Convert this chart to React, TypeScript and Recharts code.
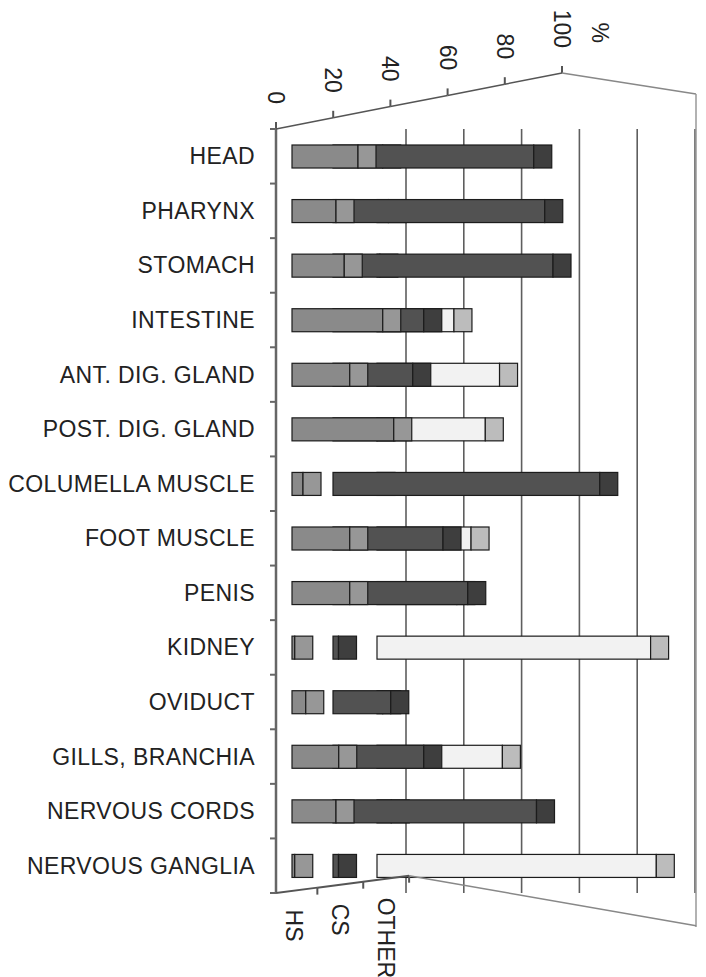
import { BarChart, Bar, XAxis, YAxis, CartesianGrid } from 'recharts';

const tissues = [
  'HEAD',
  'PHARYNX',
  'STOMACH',
  'INTESTINE',
  'ANT. DIG. GLAND',
  'POST. DIG. GLAND',
  'COLUMELLA MUSCLE',
  'FOOT MUSCLE',
  'PENIS',
  'KIDNEY',
  'OVIDUCT',
  'GILLS, BRANCHIA',
  'NERVOUS CORDS',
  'NERVOUS GANGLIA',
];
const seriesNames = ['HS', 'CS', 'OTHER'];
const hsValues = [24, 16, 19, 33, 21, 37, 4, 21, 21, 1, 5, 17, 16, 1];
const csValues = [73, 77, 80, 33, 29, 16, 97, 40, 49, 2, 21, 33, 74, 2];
const otherValues = [2, 4, 1, 27, 43, 38, 0, 33, 28, 96, 2, 44, 5, 98];
const valueTicks = [0, 20, 40, 60, 80, 100];
const depthTicks = [0.5, 1.5, 2.5];

const data = tissues.map((name, i) => ({
  name,
  hs: hsValues[i],
  cs: csValues[i],
  other: otherValues[i],
}));

// chart geometry
const W = 698;
const H = 969;
const PLOT_LEFT = 268;
const PLOT_TOP = 121;
const PLOT_RIGHT = 690;
const PLOT_BOTTOM = 885;
const TOP_AXIS_H = 60;
const DEPTH_AXIS_H = 80;
const BAND = (PLOT_BOTTOM - PLOT_TOP) / tissues.length;
const DEPTH = 18;
const TOP_STEP = 57.2;
const TOP_SLOPE = 0.56;
const DEPTH_SLOPE = 0.13;
const FONT = '"Liberation Sans", Arial, sans-serif';

const box = (front: string, side: string) => (props: any) => {
  const { x, y, width, height } = props;
  const w = Math.max(width || 0, 0);
  return (
    <g>
      <rect x={x} y={y} width={w} height={height} fill={front} stroke="#1c1c1c" strokeWidth={1.2} />
      <rect x={x + w} y={y} width={DEPTH} height={height} fill={side} stroke="#1c1c1c" strokeWidth={1.2} />
    </g>
  );
};

const CategoryTick = (props: any) => {
  const { x, y, payload, index } = props;
  const top = y - BAND / 2;
  return (
    <g>
      <line x1={x - 6} y1={top} x2={x} y2={top} stroke="#666" strokeWidth={2} />
      {index === tissues.length - 1 && (
        <line x1={x - 6} y1={y + BAND / 2} x2={x} y2={y + BAND / 2} stroke="#666" strokeWidth={2} />
      )}
      <text x={x - 21} y={y} textAnchor="end" dominantBaseline="central" fontFamily={FONT} fontSize={23} letterSpacing={0.4} fill="#222">
        {payload.value}
      </text>
    </g>
  );
};

const ValueTick = (props: any) => {
  const { x, y, payload } = props;
  const v = payload.value;
  const yv = y - TOP_SLOPE * v;
  return (
    <g>
      {v > 0 && (
        <line x1={x - TOP_STEP} y1={y - TOP_SLOPE * (v - 20)} x2={x} y2={yv} stroke="#555" strokeWidth={1.5} />
      )}
      <line x1={x} y1={yv} x2={x} y2={yv - 7} stroke="#555" strokeWidth={2} />
      <text transform={`translate(${x},${yv - 25}) rotate(90)`} textAnchor="end" dominantBaseline="central" fontFamily={FONT} fontSize={23} fill="#222">
        {v}
      </text>
      {v === 100 && (
        <g>
          {/* back wall frame: top edge and right edge */}
          <line x1={x} y1={yv} x2={x + 134} y2={yv + 21} stroke="#888" strokeWidth={1.5} />
          <line x1={x + 134} y1={yv + 21} x2={x + 134} y2={PLOT_BOTTOM + 34} stroke="#999" strokeWidth={1.5} />
          <text transform={`translate(${x + 38},${yv - 30}) rotate(90)`} textAnchor="end" dominantBaseline="central" fontFamily={FONT} fontSize={23} fill="#222">
            %
          </text>
        </g>
      )}
    </g>
  );
};

const DepthTick = (props: any) => {
  const { x, index } = props;
  const half = 23;
  const lineY = (px: number) => PLOT_BOTTOM - DEPTH_SLOPE * (px - PLOT_LEFT);
  const x0 = index === 0 ? PLOT_LEFT : x - half;
  const x1 = x + half;
  return (
    <g>
      <line x1={x0} y1={lineY(x0)} x2={x1} y2={lineY(x1)} stroke="#555" strokeWidth={2} />
      <line x1={x1} y1={lineY(x1)} x2={x1} y2={lineY(x1) + 7} stroke="#555" strokeWidth={2} />
      {index === seriesNames.length - 1 && (
        <line x1={x1} y1={lineY(x1)} x2={x1 + 287} y2={lineY(x1) + 50} stroke="#888" strokeWidth={1.5} />
      )}
      <text transform={`translate(${x},${lineY(x) + 19}) rotate(90)`} textAnchor="start" dominantBaseline="central" fontFamily={FONT} fontSize={23} fill="#222">
        {seriesNames[index]}
      </text>
    </g>
  );
};

export default function App() {
  return (
    <div style={{ width: W, height: H, background: '#fff' }}>
      <BarChart
        width={W}
        height={H}
        data={data}
        layout="vertical"
        margin={{
          top: PLOT_TOP - TOP_AXIS_H,
          right: W - PLOT_RIGHT,
          bottom: H - PLOT_BOTTOM - DEPTH_AXIS_H,
          left: 0,
        }}
      >
        <XAxis xAxisId="hs" type="number" domain={[0, 100]} padding={{ left: 16, right: 131 }} hide />
        <XAxis xAxisId="cs" type="number" domain={[0, 100]} padding={{ left: 57, right: 90 }} hide />
        <XAxis xAxisId="other" type="number" domain={[0, 100]} padding={{ left: 101, right: 36 }} hide />
        <XAxis xAxisId="grid" type="number" domain={[0, 100]} ticks={valueTicks} padding={{ left: 130, right: 3 }} allowDataOverflow hide />
        <XAxis
          xAxisId="top"
          orientation="top"
          type="number"
          domain={[0, 100]}
          ticks={valueTicks}
          padding={{ left: 0, right: 136 }}
          height={TOP_AXIS_H}
          axisLine={false}
          tickLine={false}
          tickSize={0}
          tickMargin={0}
          tick={<ValueTick />}
          allowDataOverflow
          interval={0}
        />
        <XAxis
          xAxisId="depth"
          orientation="bottom"
          type="number"
          domain={[0.1, 3.5]}
          ticks={depthTicks}
          padding={{ left: 0, right: 266 }}
          height={DEPTH_AXIS_H}
          axisLine={false}
          tickLine={false}
          tickSize={0}
          tickMargin={0}
          tick={<DepthTick />}
          allowDataOverflow
          interval={0}
        />
        <YAxis
          yAxisId="hs"
          type="category"
          dataKey="name"
          width={PLOT_LEFT}
          axisLine={{ stroke: '#666', strokeWidth: 2.5 }}
          tickLine={false}
          tickSize={0}
          tickMargin={0}
          tick={<CategoryTick />}
          interval={0}
        />
        <YAxis yAxisId="cs" orientation="right" type="category" dataKey="name" hide />
        <YAxis yAxisId="other" orientation="right" type="category" dataKey="name" hide />
        <CartesianGrid xAxisId="grid" yAxisId="hs" horizontal={false} syncWithTicks stroke="#5e5e5e" strokeWidth={1.6} />
        <Bar dataKey="other" name="OTHER" xAxisId="other" yAxisId="other" barSize={23} fill="#f2f2f2" shape={box('#f2f2f2', '#bcbcbc')} isAnimationActive={false} />
        <Bar dataKey="cs" name="CS" xAxisId="cs" yAxisId="cs" barSize={23} fill="#505050" shape={box('#525252', '#3e3e3e')} isAnimationActive={false} />
        <Bar dataKey="hs" name="HS" xAxisId="hs" yAxisId="hs" barSize={23} fill="#8a8a8a" shape={box('#8a8a8a', '#979797')} isAnimationActive={false} />
      </BarChart>
    </div>
  );
}
